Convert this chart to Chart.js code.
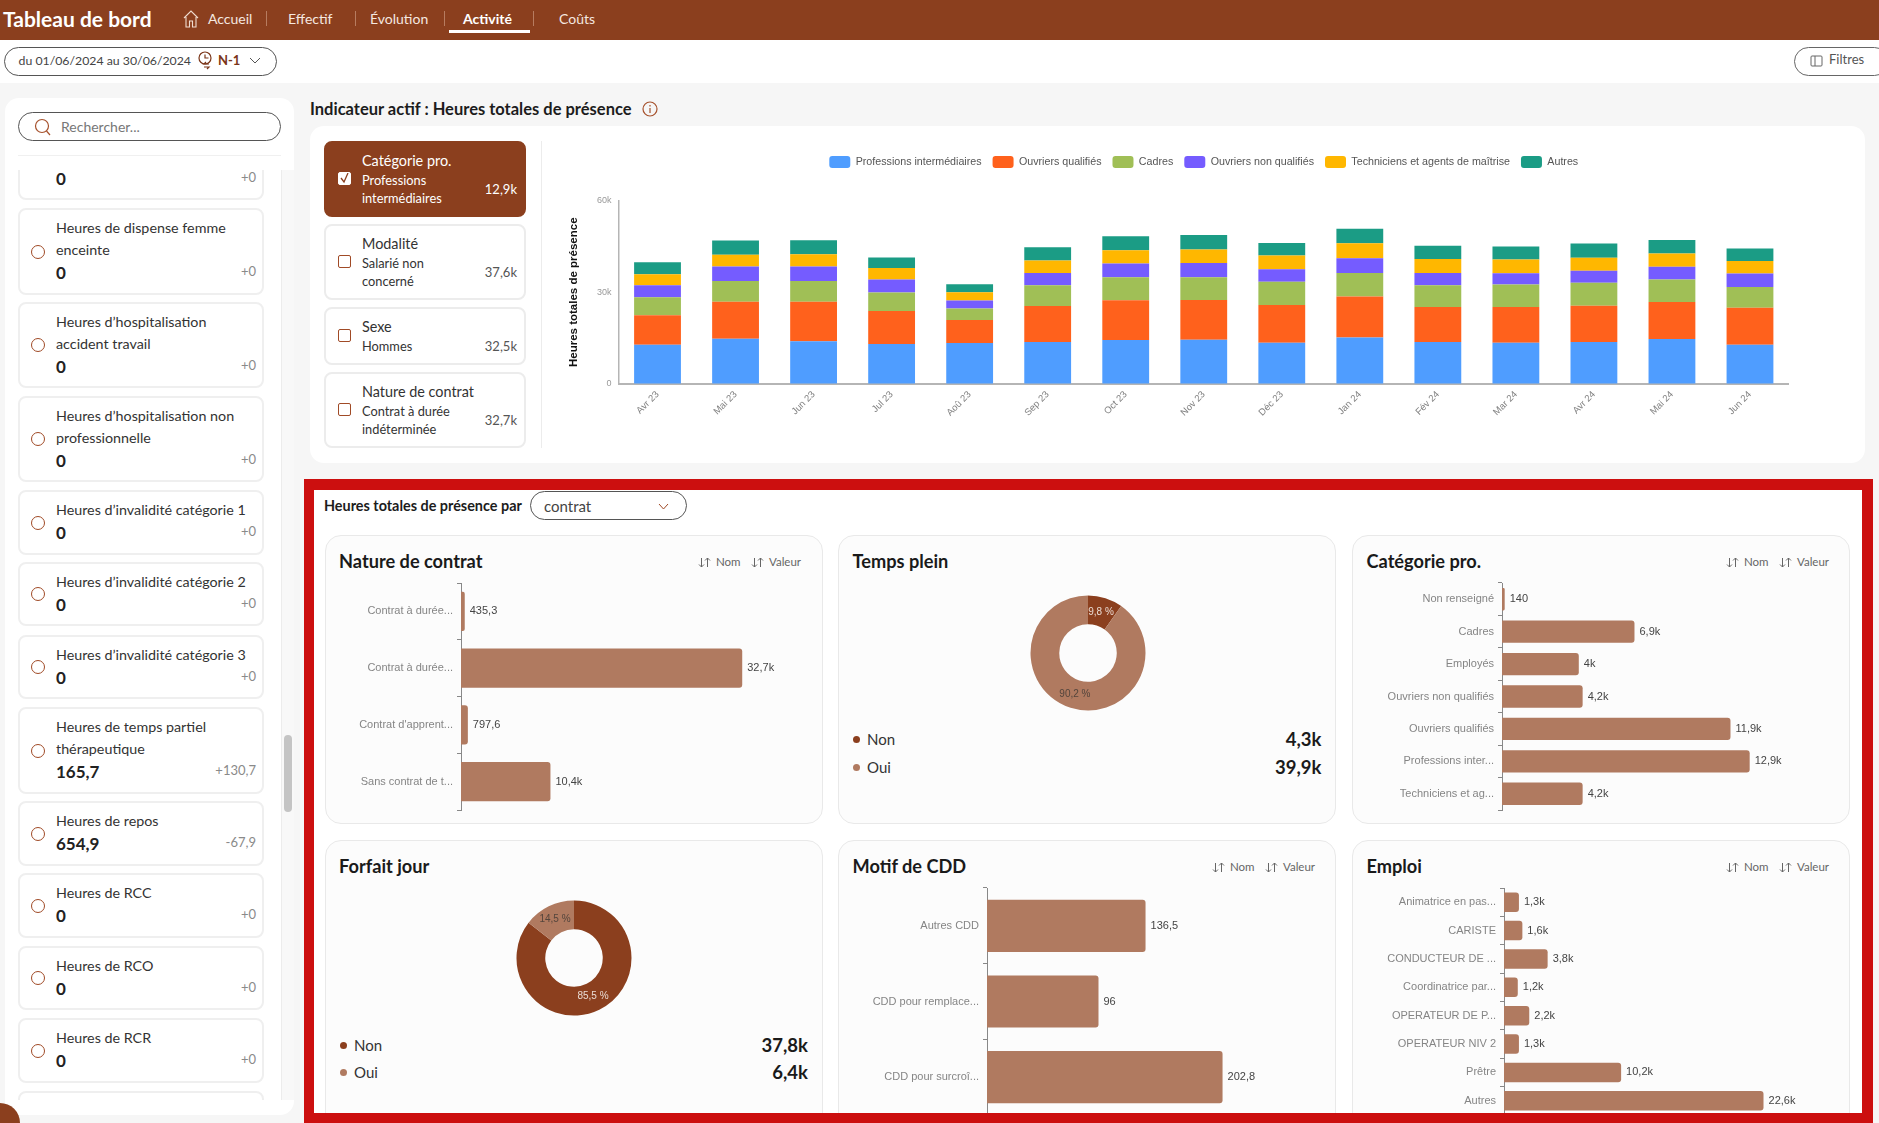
<!DOCTYPE html>
<html lang="fr">
<head>
<meta charset="utf-8">
<title>Tableau de bord</title>
<script src="https://cdn.jsdelivr.net/npm/chart.js@4/dist/chart.umd.js"></script>
<style>
  html, body { margin: 0; padding: 0; width: 1879px; height: 1123px; overflow: hidden; background: #f6f6f6; font-family: Lato, sans-serif; color: #222; }
  #page { position: relative; width: 1879px; height: 1123px; overflow: hidden; }
  .abs { position: absolute; box-sizing: border-box; }
  .t { position: absolute; white-space: nowrap; transform: translateY(-50%); line-height: 1.2; }
  .r { transform: translate(-100%, -50%); }
  canvas { position: absolute; display: block; }
  svg { display: block; }
  .card { position: absolute; box-sizing: border-box; background: #fcfcfc; border: 1.5px solid #e9e9e9; border-radius: 16px; }
  .item { position: absolute; box-sizing: border-box; left: 18px; width: 246px; background: #fff; border: 2px solid #efefef; border-radius: 8px; }
  .pick { position: absolute; box-sizing: border-box; left: 324px; width: 202px; background: #fff; border: 2px solid #ececec; border-radius: 8px; }
</style>
</head>
<body>
<div id="page"></div>
<script>
// stacked chart data (thousands of hours)
const months = ["Avr 23", "Mai 23", "Jun 23", "Jul 23", "Aoû 23", "Sep 23", "Oct 23", "Nov 23", "Déc 23", "Jan 24", "Fév 24", "Mar 24", "Avr 24", "Mai 24", "Jun 24"];
const professions = [12.8, 14.8, 14.0, 13.1, 13.4, 13.7, 14.4, 14.5, 13.5, 15.2, 13.7, 13.5, 13.7, 14.7, 12.8];
const ouvriersQualifies = [9.7, 12.1, 12.9, 10.8, 7.5, 11.8, 13.0, 13.0, 12.3, 13.4, 11.5, 11.7, 11.9, 12.1, 12.1];
const cadres = [5.9, 6.8, 6.8, 6.0, 3.8, 6.8, 7.5, 7.4, 7.6, 7.7, 7.1, 7.3, 7.5, 7.4, 6.8];
const ouvriersNonQualifies = [3.9, 4.7, 4.7, 4.3, 2.6, 4.0, 4.5, 4.7, 4.1, 4.8, 4.0, 3.7, 3.9, 4.1, 4.4];
const techniciens = [3.6, 3.9, 4.0, 3.7, 2.7, 4.1, 4.3, 4.4, 4.5, 4.9, 4.6, 4.5, 4.3, 4.4, 4.1];
const autres = [3.9, 4.6, 4.6, 3.5, 2.6, 4.3, 4.6, 4.7, 4.1, 4.8, 4.3, 4.3, 4.6, 4.4, 4.1];

// small charts data
const contratLabels = ["Contrat à durée...", "Contrat à durée...", "Contrat d'apprent...", "Sans contrat de t..."];
const contratValues = [435.3, 32700, 797.6, 10400];
const categorieLabels = ["Non renseigné", "Cadres", "Employés", "Ouvriers non qualifiés", "Ouvriers qualifiés", "Professions inter...", "Techniciens et ag..."];
const categorieValues = [140, 6900, 4000, 4200, 11900, 12900, 4200];
const motifLabels = ["Autres CDD", "CDD pour remplace...", "CDD pour surcroî..."];
const motifValues = [136.5, 96, 202.8];
const emploiLabels = ["Animatrice en pas...", "CARISTE", "CONDUCTEUR DE ...", "Coordinatrice par...", "OPERATEUR DE P...", "OPERATEUR NIV 2", "Prêtre", "Autres"];
const emploiValues = [1300, 1600, 3800, 1200, 2200, 1300, 10200, 22600];
const tempsPleinPct = [9.8, 90.2];
const forfaitPct = [85.5, 14.5];

const BROWN = "#8b3f1e";
const LIGHT_BROWN = "#b07a60";
const page = document.getElementById("page");

function box(css, html, cls) {
  const d = document.createElement("div");
  d.className = cls || "abs";
  d.style.cssText = css;
  d.innerHTML = html || "";
  page.appendChild(d);
  return d;
}
function text(x, y, str, css, parent) {
  const d = document.createElement("div");
  d.className = "t";
  d.style.cssText = "left:" + x + "px;top:" + y + "px;" + (css || "");
  d.textContent = str;
  (parent || page).appendChild(d);
  return d;
}
function textR(x, y, str, css, parent) {
  const d = text(x, y, str, css, parent);
  d.className = "t r";
  return d;
}

// header
box("left:0;top:0;width:1879px;height:40px;background:" + BROWN);
box("left:0;top:40px;width:1879px;height:43px;background:#fff");
text(3, 19, "Tableau de bord", "font-size:21px;font-weight:700;color:#fff");
box("left:183px;top:10px;width:16px;height:18px", '<svg width="16" height="18" viewBox="0 0 16 18" fill="none" stroke="#f0dcd0" stroke-width="1.1"><path d="M1 8 L8 1 L15 8 M3 7 V17 H6.5 V11 H9.5 V17 H13 V7"/></svg>');
text(208, 19, "Accueil", "font-size:14px;color:#f5e8e0");
text(288, 19, "Effectif", "font-size:14px;color:#f5e8e0");
text(370, 19, "Évolution", "font-size:14px;color:#f5e8e0");
text(463, 19, "Activité", "font-size:14px;font-weight:700;color:#fff");
text(559, 19, "Coûts", "font-size:14px;color:#f5e8e0");
[266, 355, 444, 533].forEach(x => box("left:" + x + "px;top:11px;width:1px;height:15px;background:#b77c60"));
box("left:449px;top:30px;width:81px;height:3px;background:#fff");

// date and filter pills
box("left:4px;top:47px;width:273px;height:29px;border:1.2px solid #555;border-radius:15px;background:#fff");
text(18.5, 61, "du 01/06/2024 au 30/06/2024", "font-size:12.3px;color:#444");
box("left:198px;top:51px;width:16px;height:22px", '<svg width="16" height="22" fill="none" stroke="#7a3518" stroke-width="1.2"><circle cx="7" cy="7" r="6"/><path d="M7 3.5V7H10.5M11 13H6L8 11M6 16H11L9 18"/></svg>');
text(218, 61, "N-1", "font-size:13px;font-weight:700;color:#7a3518");
box("left:249px;top:57px;width:12px;height:8px", '<svg width="12" height="8" fill="none" stroke="#555"><path d="M1 1L6 6L11 1"/></svg>');
box("left:1794px;top:47px;width:95px;height:29px;border:1.2px solid #666;border-radius:15px;background:#fff");
box("left:1810px;top:54px;width:14px;height:14px", '<svg width="14" height="14" fill="none" stroke="#666"><rect x="1" y="2" width="11" height="10" rx="1"/><path d="M5 2V12"/></svg>');
text(1829, 60, "Filtres", "font-size:13px;color:#555");

// side panel
box("left:5px;top:98px;width:289px;height:1017px;background:#fff;border-radius:14px");
box("left:18px;top:112px;width:263px;height:29px;border:1.2px solid #555;border-radius:15px;background:#fff");
box("left:34px;top:118px;width:18px;height:18px", '<svg width="18" height="18" fill="none" stroke="#a6512c" stroke-width="1.2"><circle cx="8" cy="8" r="6.5"/><path d="M12.5 13L16 17"/></svg>');
text(61, 126.5, "Rechercher...", "font-size:14px;color:#777");
box("left:18px;top:155px;width:263px;height:1px;background:#f0f0f0");

const list = box("left:5px;top:170px;width:289px;height:930px;overflow:hidden");
box("left:281px;top:170px;width:13px;height:930px;background:#f8f8f8;border-left:1px solid #ececec");
box("left:284px;top:735px;width:8px;height:77px;background:#c4c4c4;border-radius:4px");

const sideItems = [
  { top: 120, bottom: 200, lines: [], value: "0", delta: "+0", vy: 179 },
  { top: 208, bottom: 295, lines: ["Heures de dispense femme", "enceinte"], value: "0", delta: "+0" },
  { top: 302, bottom: 388, lines: ["Heures d’hospitalisation", "accident travail"], value: "0", delta: "+0" },
  { top: 396, bottom: 482, lines: ["Heures d’hospitalisation non", "professionnelle"], value: "0", delta: "+0" },
  { top: 490, bottom: 555, lines: ["Heures d’invalidité catégorie 1"], value: "0", delta: "+0" },
  { top: 562, bottom: 626, lines: ["Heures d’invalidité catégorie 2"], value: "0", delta: "+0" },
  { top: 635, bottom: 699, lines: ["Heures d’invalidité catégorie 3"], value: "0", delta: "+0" },
  { top: 707, bottom: 794, lines: ["Heures de temps partiel", "thérapeutique"], value: "165,7", delta: "+130,7" },
  { top: 801, bottom: 866, lines: ["Heures de repos"], value: "654,9", delta: "-67,9" },
  { top: 873, bottom: 938, lines: ["Heures de RCC"], value: "0", delta: "+0" },
  { top: 946, bottom: 1010, lines: ["Heures de RCO"], value: "0", delta: "+0" },
  { top: 1018, bottom: 1083, lines: ["Heures de RCR"], value: "0", delta: "+0" },
  { top: 1091, bottom: 1150, lines: [], value: "", delta: "" }
];
sideItems.forEach(it => {
  const c = document.createElement("div");
  c.className = "item";
  c.style.cssText = "left:13px;top:" + (it.top - 170) + "px;height:" + (it.bottom - it.top) + "px";
  list.appendChild(c);
  const off = y => y - 170;
  if (it.lines.length) {
    const mid = (it.top + it.bottom) / 2;
    const ring = document.createElement("div");
    ring.className = "abs";
    ring.style.cssText = "left:26px;top:" + off(mid - 7) + "px;width:14px;height:14px;border:1.5px solid #a04a26;border-radius:50%";
    list.appendChild(ring);
    it.lines.forEach((l, i) => text(51, off(it.top + 20 + 22 * i), l, "font-size:14.3px;color:#333", list));
  }
  const vy = it.vy || it.top + 20 + 22 * it.lines.length + 1;
  if (it.value) {
    text(51, off(vy), it.value, "font-size:17px;font-weight:700;color:#222", list);
    textR(251, off(vy - 1), it.delta, "font-size:13px;color:#8a8a8a", list);
  }
});
box("left:0;top:1103px;width:40px;height:40px;margin-left:-20px;background:" + BROWN + ";border-radius:50%");

// heading and top panel
text(310, 110, "Indicateur actif : Heures totales de présence", "font-size:16.5px;font-weight:700;color:#1c1c1c");
box("left:642px;top:101px;width:16px;height:16px", '<svg width="16" height="16" fill="none" stroke="#a6512c" stroke-width="1.2"><circle cx="8" cy="8" r="7"/><path d="M8 7V12M8 4V5.4"/></svg>');
box("left:310px;top:126px;width:1555px;height:337px;background:#fff;border-radius:14px");
box("left:541px;top:141px;width:1px;height:307px;background:#ececec");

const picks = [
  { top: 141, bottom: 217, title: "Catégorie pro.", lines: ["Professions", "intermédiaires"], value: "12,9k", active: true },
  { top: 224, bottom: 300, title: "Modalité", lines: ["Salarié non", "concerné"], value: "37,6k" },
  { top: 307, bottom: 365, title: "Sexe", lines: ["Hommes"], value: "32,5k" },
  { top: 372, bottom: 448, title: "Nature de contrat", lines: ["Contrat à durée", "indéterminée"], value: "32,7k" }
];
picks.forEach(p => {
  const color = p.active ? "#fff" : "#333";
  box("top:" + p.top + "px;height:" + (p.bottom - p.top) + "px;" + (p.active ? "background:" + BROWN + ";border-color:" + BROWN : ""), "", "pick");
  const mid = (p.top + p.bottom) / 2;
  box("left:338px;top:" + (mid - 7) + "px;width:13px;height:13px;border-radius:2px;border:1.4px solid " + (p.active ? "#fff" : "#a04a26") + ";background:" + (p.active ? "#fff" : "transparent"),
    p.active ? '<svg width="11" height="11" fill="none" stroke="' + BROWN + '" stroke-width="1.3"><path d="M2 5L5 9L9 0"/></svg>' : "");
  text(362, p.top + 20, p.title, "font-size:14.4px;color:" + color);
  p.lines.forEach((l, i) => text(362, p.top + 40 + 18 * i, l, "font-size:12.8px;color:" + color));
  textR(517, p.lines.length > 1 ? mid + 11 : p.top + 40, p.value, "font-size:13px;color:" + (p.active ? "#fff" : "#555"));
});

// breakdown area
box("left:314px;top:490px;width:1548px;height:623px;background:#fff");
text(324, 506, "Heures totales de présence par", "font-size:14.4px;font-weight:700;color:#1c1c1c");
box("left:530px;top:491px;width:157px;height:29px;border:1.2px solid #555;border-radius:15px;background:#fff");
text(544, 505.5, "contrat", "font-size:15px;color:#444");
box("left:658px;top:503px;width:11px;height:7px", '<svg width="11" height="7" fill="none" stroke="#a04a26"><path d="M1 1L5.5 6L10 1"/></svg>');

function card(left, top, height, title) {
  box("left:" + left + "px;top:" + top + "px;width:498px;height:" + height + "px", "", "card");
  text(left + 14.5, top + 27, title, "font-size:18.2px;font-weight:700;color:#1a1a1a");
}
const SORT_ICON = '<svg width="13" height="11" fill="none" stroke="#666"><path d="M3.5 1V10M1 7.5L3.5 10L6 7.5M9.5 10V1M7 3.5L9.5 1L12 3.5"/></svg>';
function sorter(arrow1, y) {
  const css = "font-size:11.5px;color:#666";
  box("left:" + arrow1 + "px;top:" + (y - 5.5) + "px;width:13px;height:11px", SORT_ICON);
  text(arrow1 + 18, y, "Nom", css);
  box("left:" + (arrow1 + 53) + "px;top:" + (y - 5.5) + "px;width:13px;height:11px", SORT_ICON);
  text(arrow1 + 71, y, "Valeur", css);
}
card(324.5, 535, 289, "Nature de contrat");
card(838, 535, 289, "Temps plein");
card(1352, 535, 289, "Catégorie pro.");
card(324.5, 840, 330, "Forfait jour");
card(838, 840, 330, "Motif de CDD");
card(1352, 840, 330, "Emploi");
sorter(698, 562);
sorter(1726, 562);
sorter(1212, 867);
sorter(1726, 867);

function donutLegend(dotX, textX, valueX, y1, y2, v1, v2) {
  box("left:" + (dotX - 3.5) + "px;top:" + (y1 - 3.5) + "px;width:7px;height:7px;border-radius:50%;background:" + BROWN);
  box("left:" + (dotX - 3.5) + "px;top:" + (y2 - 3.5) + "px;width:7px;height:7px;border-radius:50%;background:" + LIGHT_BROWN);
  text(textX, y1, "Non", "font-size:15px;color:#333");
  text(textX, y2, "Oui", "font-size:15px;color:#333");
  textR(valueX, y1, v1, "font-size:18.5px;font-weight:700;color:#1a1a1a");
  textR(valueX, y2, v2, "font-size:18.5px;font-weight:700;color:#1a1a1a");
}
donutLegend(856.5, 867, 1321.5, 739, 767, "4,3k", "39,9k");
donutLegend(343, 354, 808, 1045, 1072, "37,8k", "6,4k");

// red frame on top of everything below
box("left:304px;top:479px;width:1569px;height:644px;border:solid #cc0f0f;border-width:11px 11px 10px 10px;z-index:10;pointer-events:none");

function newCanvas(left, top, w, h) {
  const c = document.createElement("canvas");
  c.width = w;
  c.height = h;
  c.style.left = left + "px";
  c.style.top = top + "px";
  c.style.width = w + "px";
  c.style.height = h + "px";
  page.appendChild(c);
  return c;
}

function formatValue(v) {
  if (v >= 1000) {
    return String(+(v / 1000).toFixed(1)).replace(".", ",") + "k";
  }
  return String(v).replace(".", ",");
}

// value at the end of each horizontal bar
const barValuePlugin = {
  id: "barValue",
  afterDatasetsDraw(chart) {
    const ctx = chart.ctx;
    const ds = chart.data.datasets[0];
    ctx.save();
    ctx.font = "11px 'Liberation Sans'";
    ctx.fillStyle = "#444";
    ctx.textBaseline = "middle";
    chart.getDatasetMeta(0).data.forEach((bar, i) => {
      ctx.fillText(formatValue(ds.data[i]), bar.x + 5, bar.y);
    });
    ctx.restore();
  }
};

const donutLabelPlugin = {
  id: "donutLabel",
  afterDatasetsDraw(chart) {
    const ctx = chart.ctx;
    const ds = chart.data.datasets[0];
    ctx.save();
    ctx.font = "10px 'Liberation Sans'";
    ctx.textAlign = "center";
    ctx.textBaseline = "middle";
    chart.getDatasetMeta(0).data.forEach((arc, i) => {
      const p = arc.tooltipPosition();
      ctx.fillStyle = ds.backgroundColor[i] === BROWN ? "#eadcd4" : "#54453c";
      ctx.fillText(String(ds.data[i]).replace(".", ",") + " %", p.x, p.y);
    });
    ctx.restore();
  }
};

function hbar(labels, values, max, axisX, top, height, plotW) {
  const gutter = 135;
  const c = newCanvas(axisX - gutter, top - 3, gutter + plotW, height + 6);
  return new Chart(c, {
    type: "bar",
    data: {
      labels: labels,
      datasets: [{
        data: values,
        backgroundColor: LIGHT_BROWN,
        barPercentage: 0.69,
        categoryPercentage: 1,
        borderRadius: { topRight: 3, bottomRight: 3 }
      }]
    },
    plugins: [barValuePlugin],
    options: {
      indexAxis: "y",
      responsive: false,
      animation: false,
      layout: { padding: { top: 3, bottom: 3 } },
      plugins: { legend: { display: false }, tooltip: { enabled: false } },
      scales: {
        x: { display: false, min: 0, max: max },
        y: {
          // keep the axis at its full height, the tick labels fit inside it
          afterFit(scale) {
            scale.width = gutter;
            scale.paddingTop = 0;
            scale.paddingBottom = 0;
          },
          border: { color: "#888", width: 1 },
          grid: { drawOnChartArea: false, color: "#888", tickLength: 4 },
          ticks: { autoSkip: false, padding: 4, color: "#858585", font: { family: "Liberation Sans", size: 11 } }
        }
      }
    }
  });
}

function donut(values, cx, cy) {
  const c = newCanvas(cx - 62, cy - 62, 124, 124);
  return new Chart(c, {
    type: "doughnut",
    data: {
      labels: ["Non", "Oui"],
      datasets: [{ data: values, backgroundColor: [BROWN, LIGHT_BROWN], borderWidth: 0 }]
    },
    plugins: [donutLabelPlugin],
    options: {
      responsive: false,
      animation: false,
      radius: 57.5,
      cutout: "50%",
      plugins: { legend: { display: false }, tooltip: { enabled: false } }
    }
  });
}

hbar(contratLabels, contratValues, 40000, 461, 582.5, 227, 344);
hbar(categorieLabels, categorieValues, 17500, 1501.5, 582.5, 227, 336);
hbar(motifLabels, motifValues, 291, 987, 887.5, 227, 338);
hbar(emploiLabels, emploiValues, 29000, 1503.5, 887.5, 227.5, 333);
donut(tempsPleinPct, 1087.5, 653);
donut(forfaitPct, 573.5, 958);

// legend sits well above the plot, so add room under it
const legendGap = {
  id: "legendGap",
  beforeInit(chart) {
    const fit = chart.legend.fit;
    chart.legend.fit = function () {
      fit.call(this);
      this.height += 22.5;
    };
  }
};

const seriesNames = ["Professions intermédiaires", "Ouvriers qualifiés", "Cadres", "Ouvriers non qualifiés", "Techniciens et agents de maîtrise", "Autres"];
const seriesValues = [professions, ouvriersQualifies, cadres, ouvriersNonQualifies, techniciens, autres];
const seriesColors = ["#4f9dff", "#ff611c", "#a0bf56", "#755cff", "#ffb700", "#1b9c85"];

const stackedCanvas = newCanvas(555, 145, 1234, 289);
new Chart(stackedCanvas, {
  type: "bar",
  data: {
    labels: months,
    datasets: seriesNames.map((name, i) => ({
      label: name,
      data: seriesValues[i],
      backgroundColor: seriesColors[i],
      barPercentage: 0.6,
      categoryPercentage: 1
    }))
  },
  plugins: [legendGap],
  options: {
    responsive: false,
    animation: false,
    plugins: {
      tooltip: { enabled: false },
      legend: {
        position: "top",
        fullSize: false,
        labels: {
          boxWidth: 21,
          boxHeight: 12,
          useBorderRadius: true,
          borderRadius: 3,
          padding: 11,
          color: "#555",
          font: { family: "Liberation Sans", size: 10.7 }
        }
      }
    },
    scales: {
      x: {
        stacked: true,
        afterFit(scale) { scale.height = 50; },
        border: { color: "#b5b5b5", width: 2 },
        grid: { display: false },
        ticks: { minRotation: 45, maxRotation: 45, padding: -3, color: "#808080", font: { family: "Liberation Sans", size: 9.5 } }
      },
      y: {
        stacked: true,
        min: 0,
        max: 60,
        afterFit(scale) { scale.width = 63.5; },
        border: { color: "#b5b5b5", width: 1.5 },
        grid: { drawOnChartArea: false, drawTicks: false },
        title: { display: true, text: "Heures totales de présence", color: "#111", padding: { top: 12, bottom: 0 }, font: { family: "Liberation Sans", size: 11.5, weight: "bold" } },
        ticks: {
          stepSize: 30,
          padding: 7,
          color: "#999",
          font: { family: "Liberation Sans", size: 9 },
          callback: v => (v === 0 ? "0" : v + "k")
        }
      }
    }
  }
});
</script>
</body>
</html>
